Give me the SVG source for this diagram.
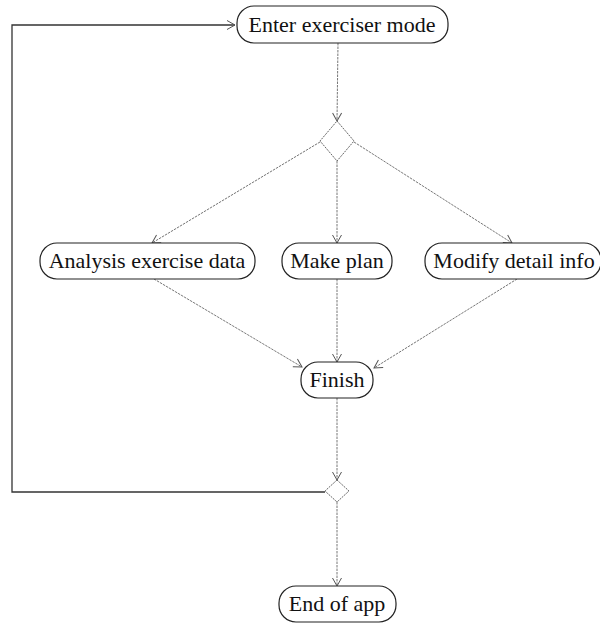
<svg xmlns="http://www.w3.org/2000/svg" width="600" height="626" viewBox="0 0 600 626">
<defs>
<style>
.node rect{fill:#fff;stroke:#222;stroke-width:1.2}
.node text{font-family:"Liberation Serif","Times New Roman",serif;font-size:22px;fill:#111;text-anchor:middle}
.dec polygon{fill:#fff;stroke:#666;stroke-width:1;stroke-dasharray:2 1}
.conn line,.conn polyline{fill:none;stroke:#777;stroke-width:1;stroke-dasharray:2.5 1}
.conn .loop{stroke:#333;stroke-width:1.3;stroke-dasharray:none}
</style>
<marker id="arr" markerWidth="12" markerHeight="12" refX="10" refY="6" orient="auto" markerUnits="userSpaceOnUse">
<path d="M2,1.5 L10,6 L2,10.5" fill="none" stroke="#555" stroke-width="1"/>
</marker>
</defs>
<rect width="600" height="626" fill="#fff"/>
<g id="connectors" class="conn">
<line x1="338" y1="43" x2="337" y2="121" marker-end="url(#arr)"/>
<line x1="320" y1="142" x2="152" y2="243" marker-end="url(#arr)"/>
<line x1="337" y1="161" x2="337" y2="243" marker-end="url(#arr)"/>
<line x1="354" y1="142" x2="512" y2="243" marker-end="url(#arr)"/>
<line x1="154" y1="279" x2="302" y2="367" marker-end="url(#arr)"/>
<line x1="337" y1="279" x2="337" y2="362" marker-end="url(#arr)"/>
<line x1="517" y1="279" x2="374" y2="368" marker-end="url(#arr)"/>
<line x1="337" y1="398" x2="337" y2="480" marker-end="url(#arr)"/>
<line x1="337" y1="502" x2="337" y2="586" marker-end="url(#arr)"/>
<polyline class="loop" points="325,492 12,492 12,25 235,25" marker-end="url(#arr)"/>
</g>
<g id="enter" class="node"><rect x="237" y="6" width="211" height="37" rx="17"/><text x="342" y="32">Enter exerciser mode</text></g>
<g id="decision1" class="dec"><polygon points="337,121 354,141 337,161 320,141"/></g>
<g id="analysis" class="node"><rect x="40" y="243" width="215" height="36" rx="17"/><text x="147" y="268">Analysis exercise data</text></g>
<g id="makeplan" class="node"><rect x="282" y="243" width="110" height="36" rx="17"/><text x="337" y="268">Make plan</text></g>
<g id="modify" class="node"><rect x="425" y="243" width="176" height="36" rx="17"/><text x="514" y="268">Modify detail info</text></g>
<g id="finish" class="node"><rect x="301" y="362" width="72" height="36" rx="17"/><text x="337" y="387">Finish</text></g>
<g id="decision2" class="dec"><polygon points="337,480 349,491 337,502 325,491"/></g>
<g id="end" class="node"><rect x="279" y="586" width="117" height="36" rx="17"/><text x="337" y="611">End of app</text></g>
</svg>
